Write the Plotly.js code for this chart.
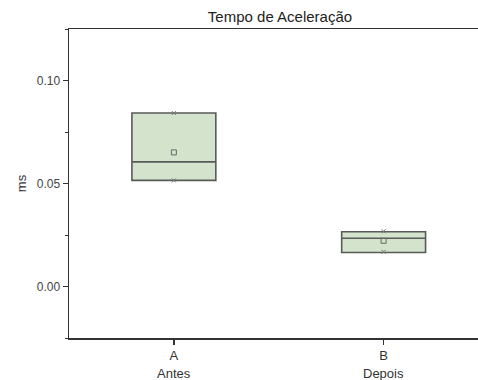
<!DOCTYPE html>
<html>
<head>
<meta charset="utf-8">
<script src="https://cdn.plot.ly/plotly-3.0.1.min.js"></script>
<style>html,body{margin:0;padding:0;background:#fff;}#chart{width:478px;height:380px;}</style>
</head>
<body>
<div id="chart"></div>
<script>
var categories = ['A', 'B'];
var groups = ['Antes', 'Depois'];
var q1 = [0.0515, 0.0165];
var median = [0.0605, 0.0234];
var q3 = [0.0842, 0.0266];
var mean = [0.0651, 0.0222];
var minVal = [0.0515, 0.0168];
var maxVal = [0.0842, 0.0268];

var xs = categories.map(function(c, i){ return i + 1; });

var traces = [
  {
    type: 'box',
    x: xs,
    q1: q1, median: median, q3: q3,
    lowerfence: q1, upperfence: q3,
    width: 0.4,
    whiskerwidth: 0,
    fillcolor: '#d4e4cc',
    line: {color: '#5a5a5a', width: 1.6},
    hoverinfo: 'skip',
    showlegend: false
  },
  {
    type: 'scatter', mode: 'markers',
    x: xs, y: mean,
    marker: {symbol: 'square-open', size: 5, color: '#666', line: {width: 1, color: '#666'}},
    showlegend: false
  },
  {
    type: 'scatter', mode: 'markers',
    x: xs.concat(xs), y: minVal.concat(maxVal),
    marker: {symbol: 'x-thin-open', size: 4, color: '#777', line: {width: 1, color: '#777'}},
    showlegend: false
  }
];

var annotations = groups.map(function(g, i){
  return {text: g, x: xs[i], xref: 'x', y: (338 - 373) / 309, yref: 'paper', yanchor: 'middle', xanchor: 'center', showarrow: false, font: {size: 13, color: '#333'}};
});

var layout = {
  width: 478, height: 380,
  margin: {l: 69, r: 0, t: 29, b: 42},
  paper_bgcolor: '#fff', plot_bgcolor: '#fff',
  font: {family: 'Liberation Sans, Arial, sans-serif', color: '#333', size: 12},
  title: {text: 'Tempo de Aceleração', x: 280/478, xanchor: 'center', xref: 'container', y: 1 - 17/380, yanchor: 'middle', yref: 'container', font: {size: 15, color: '#222'}},
  annotations: annotations,
  xaxis: {
    range: [0.5, 2.45], tickvals: xs, ticktext: categories,
    showgrid: false, zeroline: false,
    showline: true, linecolor: '#333', linewidth: 1.5, mirror: true,
    ticks: 'outside', ticklen: 5, tickcolor: '#333', tickwidth: 1.5,
    tickfont: {size: 13, color: '#333'}
  },
  yaxis: {
    range: [-0.025, 0.125], tick0: 0, dtick: 0.05, tickformat: '.2f',
    showgrid: false, zeroline: false,
    showline: true, linecolor: '#333', linewidth: 1.5,
    ticks: 'outside', ticklen: 5, tickcolor: '#333', tickwidth: 1.5,
    minor: {dtick: 0.025, tick0: 0, ticks: 'outside', ticklen: 3, tickcolor: '#333', tickwidth: 1, showgrid: false},
    tickfont: {size: 12, color: '#444'},
    title: {text: 'ms', font: {size: 13, color: '#333'}, standoff: 7}
  }
};

Plotly.newPlot('chart', traces, layout, {displayModeBar: false, staticPlot: true});
</script>
</body>
</html>
